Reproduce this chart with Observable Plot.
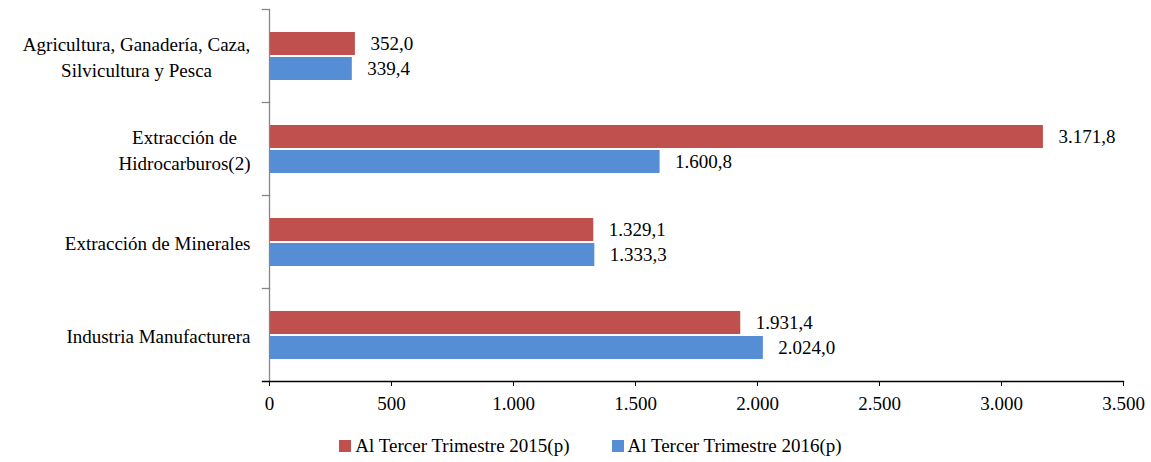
<!DOCTYPE html>
<html>
<head>
<meta charset="utf-8">
<script src="https://cdn.jsdelivr.net/npm/d3@7"></script>
<script src="https://cdn.jsdelivr.net/npm/@observablehq/plot@0.6"></script>
<style>
  html, body { margin: 0; padding: 0; background: #fff; }
  body { font-family: "Times New Roman", "Liberation Serif", Tinos, "DejaVu Serif", serif; color: #000; width: 1151px; }
  #legend { display: flex; justify-content: center; align-items: center; height: 32px; padding-left: 30px; font-size: 19px; gap: 42px; }
  .item { display: flex; align-items: center; }
  .sw { width: 12px; height: 12px; margin-right: 4px; }
</style>
</head>
<body>
<div id="chart"></div>
<div id="legend"></div>
<script>
const categories = [
  "Agricultura, Ganadería, Caza,\nSilvicultura y Pesca",
  "Extracción de\nHidrocarburos(2)",
  "Extracción de Minerales",
  "Industria Manufacturera"
];
const series = ["Al Tercer Trimestre 2015(p)", "Al Tercer Trimestre 2016(p)"];
const values2015 = [352.0, 3171.8, 1329.1, 1931.4];
const values2016 = [339.4, 1600.8, 1333.3, 2024.0];
const xTicks = [0, 500, 1000, 1500, 2000, 2500, 3000, 3500];
const colors = ["#C0504D", "#558ED5"];

const FONT = "'Times New Roman', 'Liberation Serif', Tinos, 'DejaVu Serif', serif";

const locale = d3.formatLocale({decimal: ",", thousands: ".", grouping: [3], currency: ["", ""]});
const fmtVal = locale.format(",.1f");
const fmtTick = locale.format(",");

const data = categories.flatMap((c, i) => [
  {cat: c, series: series[0], value: values2015[i]},
  {cat: c, series: series[1], value: values2016[i]}
]);

const W = 1151, H = 430, mL = 269, mR = 28, mT = 8, mB = 48;
const plotW = W - mL - mR;

const chart = Plot.plot({
  width: W, height: H,
  marginLeft: mL, marginRight: mR, marginTop: mT, marginBottom: mB,
  style: {fontFamily: FONT, fontSize: "19px", color: "#000", background: "#fff"},
  x: {domain: [0, 3500], label: null},
  fy: {domain: categories, padding: 0, label: null},
  y: {domain: series, paddingInner: 0, paddingOuter: 0.8, axis: null},
  color: {domain: series, range: colors},
  marks: [
    Plot.barX(data, {fy: "cat", y: "series", x: "value", fill: "series", insetTop: 1, insetBottom: 1}),
    Plot.text(data, {fy: "cat", y: "series", x: "value", text: d => fmtVal(d.value), textAnchor: "start", dx: 15, fontSize: 19, fontFamily: FONT, fill: "#000"}),
    Plot.frame({anchor: "left", stroke: "#868686", strokeWidth: 1.3}),
    Plot.frame({anchor: "top", insetLeft: -7, insetRight: plotW, stroke: "#868686", strokeWidth: 1.3}),
    Plot.frame({anchor: "bottom", facetAnchor: "bottom", insetLeft: -7, stroke: "#000", strokeWidth: 1.3}),
    Plot.axisX({ticks: xTicks, tickFormat: fmtTick, tickSize: 5, tickPadding: 10, stroke: "#000", fontSize: 19, fontFamily: FONT, label: null}),
    Plot.axisFy({anchor: "left", tickSize: 0, tickPadding: 19, label: null, fontSize: 19, fontFamily: FONT, lineHeight: 1.37})
  ]
});
document.getElementById("chart").appendChild(chart);
chart.querySelectorAll("text").forEach(t => t.setAttribute("font-family", FONT));

// center multi-line category labels within their block (right-aligned block)
chart.querySelectorAll("text").forEach(t => {
  const spans = t.querySelectorAll("tspan");
  if (spans.length > 1 && categories.some(c => c.replace("\n", "") === t.textContent)) {
    const w = t.getBBox().width;
    t.setAttribute("text-anchor", "middle");
    spans.forEach(s => s.setAttribute("x", -w / 2));
  }
});

const legend = document.getElementById("legend");
series.forEach((s, i) => {
  const item = document.createElement("div");
  item.className = "item";
  const sw = document.createElement("div");
  sw.className = "sw";
  sw.style.background = colors[i];
  const label = document.createElement("span");
  label.textContent = s;
  item.appendChild(sw);
  item.appendChild(label);
  legend.appendChild(item);
});
</script>
</body>
</html>
